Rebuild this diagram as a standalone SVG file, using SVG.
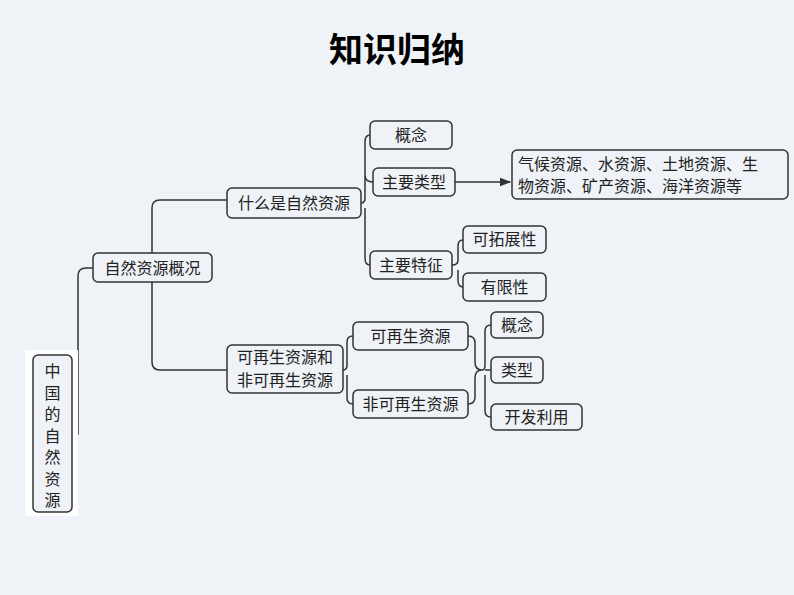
<svg xmlns="http://www.w3.org/2000/svg" width="794" height="595" viewBox="0 0 794 595">
<style>
.n{fill:#eff2f7;stroke:#333;stroke-width:1.5}
.t{font-family:"Noto Sans CJK SC",sans-serif;font-size:16px;fill:#222}
.c{fill:none;stroke:#333;stroke-width:1.5}
</style>
<defs><marker id="a" markerWidth="8" markerHeight="8" refX="7" refY="4" orient="auto"><path d="M0,1 L8,4 L0,7 z" fill="#333"/></marker></defs>
<rect width="794" height="595" fill="#eff2f7"/>
<text x="397" y="62" text-anchor="middle" font-family="Noto Sans CJK SC,sans-serif" font-size="34" font-weight="bold" fill="#000">知识归纳</text>
<g id="connectors">
<path class="c" d="M72,434 H78 V276 Q78,268 86,268 H93"/>
<path class="c" d="M152,282 V362 Q152,370 160,370 H227 M152,253 V208 Q152,200 160,200 H227"/>
<path class="c" d="M361,203 Q365,203 365,198 V142 Q365,135 370,135 M365,198 V175 Q365,182 373,182 M365,208 V258 Q365,265 370,265"/>
<path class="c" d="M455,182 H510" marker-end="url(#a)"/>
<path class="c" d="M452,265 Q458,265 458,260 V246 Q458,240 463,240 M458,270 V280 Q458,287 463,287"/>
<path class="c" d="M343,370 Q347,370 347,365 V342 Q347,336 353,336 M347,375 V398 Q347,404 353,404"/>
<path class="c" d="M468,336 Q475,336 475,343 V362 Q475,370 482,370 M468,404 Q475,404 475,397 V378 Q475,370 482,370 Q485,370 485,365 V331 Q485,325 491,325 M485,370 H491 M485,375 V411 Q485,417 491,417"/>
</g>
<g id="root"><rect x="25" y="350" width="53" height="166" fill="#fff"/><rect class="n" x="33" y="355" width="39" height="157" rx="5"/>
<text class="t" font-size="17" text-anchor="middle"><tspan x="52.5" y="377">中</tspan><tspan x="52.5" y="398.5">国</tspan><tspan x="52.5" y="420">的</tspan><tspan x="52.5" y="441.5">自</tspan><tspan x="52.5" y="463">然</tspan><tspan x="52.5" y="484.5">资</tspan><tspan x="52.5" y="506">源</tspan></text></g>
<g id="n1"><rect class="n" x="93" y="253" width="119" height="29" rx="5"/><text class="t" x="152.5" y="274" text-anchor="middle">自然资源概况</text></g>
<g id="n2"><rect class="n" x="227" y="188" width="134" height="30" rx="5"/><text class="t" x="294" y="209" text-anchor="middle">什么是自然资源</text></g>
<g id="n3"><rect class="n" x="227" y="345" width="116" height="48" rx="5"/><text class="t" x="285" y="363" text-anchor="middle" font-size="14">可再生资源和</text><text class="t" x="285" y="386" text-anchor="middle" font-size="14">非可再生资源</text></g>
<g id="n4"><rect class="n" x="370" y="121" width="82" height="28" rx="5"/><text class="t" x="411" y="141" text-anchor="middle">概念</text></g>
<g id="n5"><rect class="n" x="373" y="168" width="82" height="28" rx="5"/><text class="t" x="414" y="188" text-anchor="middle">主要类型</text></g>
<g id="n6"><rect class="n" x="370" y="251" width="82" height="28" rx="5"/><text class="t" x="411" y="271" text-anchor="middle">主要特征</text></g>
<g id="n7"><rect class="n" x="512" y="150" width="276" height="49" rx="5"/><text class="t" x="518" y="170" font-size="17">气候资源、水资源、土地资源、生</text><text class="t" x="518" y="192" font-size="17">物资源、矿产资源、海洋资源等</text></g>
<g id="n8"><rect class="n" x="463" y="226" width="83" height="27" rx="5"/><text class="t" x="504.5" y="245" text-anchor="middle">可拓展性</text></g>
<g id="n9"><rect class="n" x="463" y="273" width="83" height="28" rx="5"/><text class="t" x="504.5" y="293" text-anchor="middle">有限性</text></g>
<g id="n10"><rect class="n" x="353" y="322" width="115" height="28" rx="5"/><text class="t" x="410.5" y="342" text-anchor="middle">可再生资源</text></g>
<g id="n11"><rect class="n" x="353" y="390" width="115" height="28" rx="5"/><text class="t" x="410.5" y="410" text-anchor="middle">非可再生资源</text></g>
<g id="n12"><rect class="n" x="491" y="312" width="52" height="26" rx="5"/><text class="t" x="517" y="331" text-anchor="middle">概念</text></g>
<g id="n13"><rect class="n" x="491" y="357" width="52" height="26" rx="5"/><text class="t" x="517" y="376" text-anchor="middle">类型</text></g>
<g id="n14"><rect class="n" x="491" y="404" width="91" height="26" rx="5"/><text class="t" x="536.5" y="423" text-anchor="middle">开发利用</text></g>
</svg>
